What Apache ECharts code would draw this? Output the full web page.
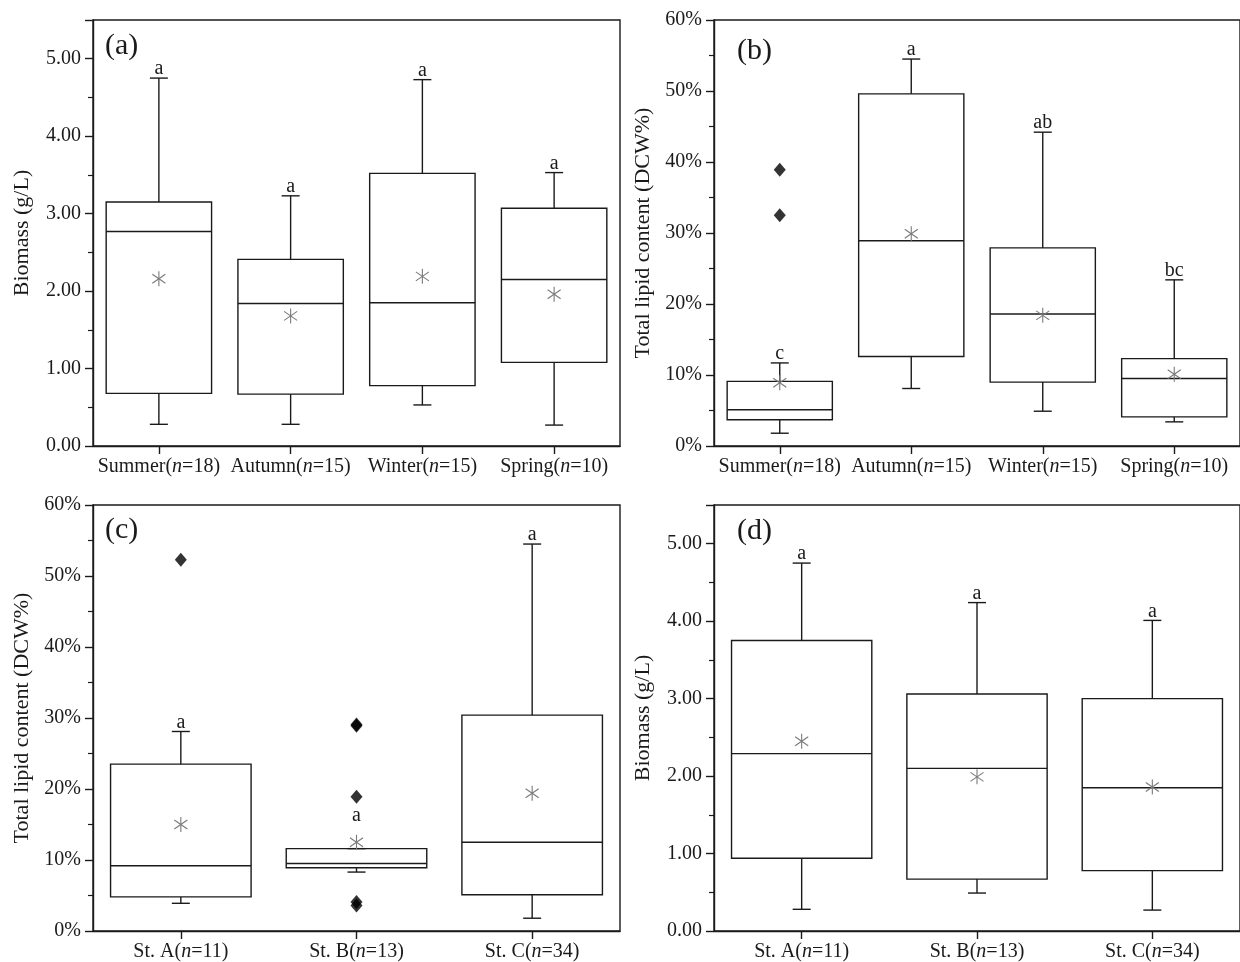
<!DOCTYPE html>
<html><head><meta charset="utf-8">
<script src="https://cdn.jsdelivr.net/npm/echarts@6/dist/echarts.min.js"></script>
<style>html,body{margin:0;padding:0;background:#fff}#c{width:1240px;height:962px}</style>
</head><body><div id="c"></div>
<script>
// ---------- data ----------
const seasonCats = ['Summer', 'Autumn', 'Winter', 'Spring'];
const seasonN = [18, 15, 15, 10];
const stationCats = ['St. A', 'St. B', 'St. C'];
const stationN = [11, 13, 34];

// [lower whisker, Q1, median, Q3, upper whisker]
const biomassSeasonBox = [
  [0.28, 0.68, 2.77, 3.15, 4.75],
  [0.28, 0.67, 1.84, 2.41, 3.23],
  [0.53, 0.78, 1.85, 3.52, 4.73],
  [0.27, 1.08, 2.15, 3.07, 3.53]
];
const biomassSeasonMean = [2.16, 1.68, 2.19, 1.96];
const biomassSeasonLetters = ['a', 'a', 'a', 'a'];

const lipidSeasonBox = [
  [1.8, 3.7, 5.1, 9.1, 11.7],
  [8.1, 12.6, 28.9, 49.6, 54.5],
  [4.9, 9.0, 18.6, 27.9, 44.2],
  [3.4, 4.1, 9.5, 12.3, 23.4]
];
const lipidSeasonMean = [8.9, 29.9, 18.4, 10.1];
const lipidSeasonOutliers = [[0, 38.9], [0, 32.5]];
const lipidSeasonLetters = ['c', 'a', 'ab', 'bc'];

const lipidStationBox = [
  [3.9, 4.8, 9.2, 23.5, 28.1],
  [8.3, 8.9, 9.5, 11.6, 11.6],
  [1.8, 5.1, 12.5, 30.4, 54.5]
];
const lipidStationMean = [15.0, 12.5, 19.4];
const lipidStationOutliers = [[0, 52.3], [1, 29.1], [1, 28.9], [1, 18.9], [1, 4.1], [1, 3.6]];
const lipidStationLetters = ['a', 'a', 'a'];

const biomassStationBox = [
  [0.28, 0.94, 2.29, 3.75, 4.75],
  [0.49, 0.67, 2.10, 3.06, 4.24],
  [0.27, 0.78, 1.85, 3.00, 4.01]
];
const biomassStationMean = [2.45, 1.99, 1.86];
const biomassStationLetters = ['a', 'a', 'a'];

const biomassTicks = { min: 0, max: 5.5, interval: 1 };
const lipidTicks = { min: 0, max: 60, interval: 10 };

// ---------- style ----------
const FONT = '"Liberation Serif","Times New Roman",serif';
const INK = '#1a1a1a';

function boxRender(letters) {
  return function (params, api) {
    const xi = api.value(0);
    const vmin = api.value(1), q1 = api.value(2), med = api.value(3),
          q3 = api.value(4), vmax = api.value(5), mean = api.value(6);
    const band = api.size([1, 0])[0];
    const hw = band * 0.4;
    const cx = api.coord([xi, med])[0];
    const y = v => api.coord([xi, v])[1];
    const cap = 9;
    const ls = { stroke: INK, lineWidth: 1.4, fill: 'none' };
    const ch = [];
    const line = (x1, y1, x2, y2, st) => ch.push({ type: 'line', shape: { x1, y1, x2, y2 }, style: st || ls });
    ch.push({ type: 'rect', shape: { x: cx - hw, y: y(q3), width: 2 * hw, height: y(q1) - y(q3) }, style: ls });
    line(cx - hw, y(med), cx + hw, y(med));
    line(cx, y(q3), cx, y(vmax));
    line(cx, y(q1), cx, y(vmin));
    line(cx - cap, y(vmax), cx + cap, y(vmax));
    line(cx - cap, y(vmin), cx + cap, y(vmin));
    // mean asterisk
    const my = y(mean), r = 7.5;
    const sst = { stroke: '#7a7a7a', lineWidth: 1.1, fill: 'none' };
    line(cx, my - r, cx, my + r, sst);
    const dx = r * 0.87, dy = r * 0.6;
    line(cx - dx, my - dy, cx + dx, my + dy, sst);
    line(cx - dx, my + dy, cx + dx, my - dy, sst);
    // letter
    const anchor = Math.min(y(vmax) + 1, my - 17);
    ch.push({ type: 'text', style: { text: letters[params.dataIndex], x: cx, y: anchor,
      align: 'center', verticalAlign: 'bottom', fontFamily: FONT, fontSize: 20, fill: INK } });
    return { type: 'group', children: ch };
  };
}

const grids = [
  { left: 93, top: 20, right: 620, bottom: 516 },
  { left: 714, top: 20, right: -2, bottom: 516 },
  { left: 93, top: 505, right: 620, bottom: 31 },
  { left: 714, top: 505, right: -2, bottom: 31 }
].map(g => Object.assign(g, { show: true, borderColor: INK, borderWidth: 1.4, containLabel: false }));

function xAxis(gi, cats, ns) {
  return {
    type: 'category', gridIndex: gi, data: cats, boundaryGap: true,
    axisLine: { show: true, lineStyle: { color: INK, width: 1.4 } },
    axisTick: { show: true, alignWithLabel: true, length: 8, lineStyle: { color: INK, width: 1.4 } },
    axisLabel: {
      margin: 11, color: INK, fontFamily: FONT, fontSize: 20, interval: 0,
      formatter: (v, i) => v + '({i|n}=' + ns[i] + ')',
      rich: { i: { fontStyle: 'italic', fontFamily: FONT, fontSize: 20, color: INK } }
    },
    splitLine: { show: false }
  };
}
function yAxis(gi, ticks, name, fmt) {
  return {
    type: 'value', gridIndex: gi, min: ticks.min, max: ticks.max, interval: ticks.interval,
    name: name, nameLocation: 'middle', nameGap: 60,
    nameTextStyle: { fontFamily: FONT, fontSize: 22, color: INK },
    axisLine: { show: true, lineStyle: { color: INK, width: 1.4 } },
    axisTick: { show: true, length: 8, lineStyle: { color: INK, width: 1.4 } },
    minorTick: { show: true, splitNumber: 2, length: 5, lineStyle: { color: INK, width: 1.2 } },
    axisLabel: { margin: 12, color: INK, fontFamily: FONT, fontSize: 20, formatter: fmt, showMaxLabel: ticks.max % ticks.interval === 0 },
    splitLine: { show: false }
  };
}
const fmtBio = v => v.toFixed(2);
const fmtPct = v => Math.round(v) + '%';

function boxSeries(gi, box, mean, letters) {
  return {
    type: 'custom', xAxisIndex: gi, yAxisIndex: gi,
    renderItem: boxRender(letters),
    encode: { x: 0, y: [1, 2, 3, 4, 5, 6] },
    data: box.map((b, i) => [i].concat(b, [mean[i]])),
    clip: false, silent: true
  };
}
function outlierSeries(gi, pts) {
  return {
    type: 'scatter', xAxisIndex: gi, yAxisIndex: gi, data: pts,
    symbol: 'diamond', symbolSize: [12, 14], itemStyle: { color: '#000' }, silent: true
  };
}
function panelLabel(text, left, top) {
  return { type: 'text', left: left, top: top, style: { text: text, fontFamily: FONT, fontSize: 30, fill: INK } };
}

const chart = echarts.init(document.getElementById('c'), null, { renderer: 'canvas' });
chart.setOption({
  backgroundColor: '#fff',
  animation: false,
  grid: grids,
  xAxis: [xAxis(0, seasonCats, seasonN), xAxis(1, seasonCats, seasonN), xAxis(2, stationCats, stationN), xAxis(3, stationCats, stationN)],
  yAxis: [
    yAxis(0, biomassTicks, 'Biomass (g/L)', fmtBio),
    yAxis(1, lipidTicks, 'Total lipid content (DCW%)', fmtPct),
    yAxis(2, lipidTicks, 'Total lipid content (DCW%)', fmtPct),
    yAxis(3, biomassTicks, 'Biomass (g/L)', fmtBio)
  ],
  series: [
    boxSeries(0, biomassSeasonBox, biomassSeasonMean, biomassSeasonLetters),
    boxSeries(1, lipidSeasonBox, lipidSeasonMean, lipidSeasonLetters),
    outlierSeries(1, lipidSeasonOutliers),
    boxSeries(2, lipidStationBox, lipidStationMean, lipidStationLetters),
    outlierSeries(2, lipidStationOutliers),
    boxSeries(3, biomassStationBox, biomassStationMean, biomassStationLetters)
  ],
  graphic: [
    panelLabel('(a)', 105, 31),
    panelLabel('(b)', 737, 36),
    panelLabel('(c)', 105, 515),
    panelLabel('(d)', 737, 516)
  ]
});
</script></body></html>
